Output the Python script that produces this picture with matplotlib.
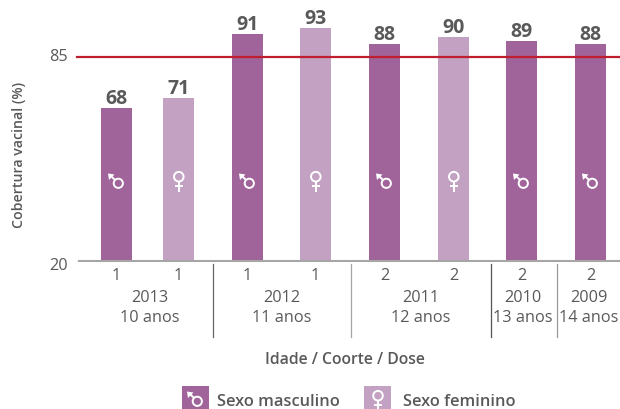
import numpy as np
import matplotlib
matplotlib.use("Agg")
import matplotlib.pyplot as plt
from matplotlib.patches import Circle, Rectangle
from matplotlib.transforms import ScaledTranslation

# values as printed above the bars
labels = [68, 71, 91, 93, 88, 90, 89, 88]
# bar heights as read against the axis (the drawn bars sit a bit above their labels)
heights = [68.8, 71.9, 92.3, 94.2, 89.2, 91.4, 90.1, 89.2]
doses = ["1", "1", "1", "1", "2", "2", "2", "2"]
sexes = ["m", "f", "m", "f", "m", "f", "m", "m"]
cohorts = ["2013\n10 anos", "2012\n11 anos", "2011\n12 anos", "2010\n13 anos", "2009\n14 anos"]
target = 85

# layout, in reference pixels
bar_x = [116.5, 178.5, 247.5, 315.5, 384.5, 453.5, 521.5, 590.5]
cohort_x = [150, 281.5, 420.5, 523, 589]
sep_x = [212.5, 351, 490.5, 556.5]
sep_c = ["#666666", "#A6A6A6", "#555555", "#999999"]

DARK = "#A0649A"
LIGHT = "#C3A1C2"
TXT = "#595959"

plt.rcParams["font.family"] = ["Open Sans", "DejaVu Sans"]
W, H = 620, 410
fig = plt.figure(figsize=(W / 100, H / 100), dpi=100)

# main axes: x in pixels, y on the chart's scale
y0, y85 = 262.0, 58.0
scale = (y0 - y85) / (target - 20)
ax = fig.add_axes([79 / W, 1 - y0 / H, (W - 79) / W, y0 / H])
ax.set_xlim(79, W)
ax.set_ylim(20, 20 + y0 / scale)
cols = [DARK if s == "m" else LIGHT for s in sexes]
ax.bar(bar_x, np.array(heights) - 20, bottom=20, width=31, color=cols, zorder=2)
ax.axhline(target, color="#BE1E2D", lw=1.6, zorder=3, xmin=-0.004, clip_on=False)
for s in ["top", "right", "left"]:
    ax.spines[s].set_visible(False)
ax.spines["bottom"].set_color("#A6A6A6")
ax.spines["bottom"].set_linewidth(1.5)
ax.set_yticks([20, 85])
ax.set_yticklabels(["20", "85"], fontsize=11.7, color=TXT)
ax.tick_params(axis="y", length=0, pad=8)
ax.set_xticks(bar_x)
ax.set_xticklabels(doses, fontsize=11.7, color=TXT)
ax.tick_params(axis="x", length=0, pad=4)
# 85 sits a little above the line, 20 a little below the baseline
for lab, dy in zip(ax.get_yticklabels(), [-2, 3]):
    lab.set_transform(lab.get_transform() + ScaledTranslation(0, dy / 100, fig.dpi_scale_trans))
for x, h, l in zip(bar_x, heights, labels):
    ax.annotate(str(l), (x, h), xytext=(0, 0), textcoords="offset points", ha="center", va="bottom",
                fontsize=14, fontweight="bold", color=TXT)

# overlay in pixel coordinates for icons, separators, legend
ov = fig.add_axes([0, 0, 1, 1])
ov.set_xlim(0, W)
ov.set_ylim(H, 0)
ov.axis("off")
ov.patch.set_alpha(0)


def male(cx, cy):
    ov.add_patch(Circle((cx + 1.8, cy + 2.3), 4.6, fill=False, ec="white", lw=1.4))
    ov.plot([cx - 1.5, cx - 5], [cy - 1, cy - 4.5], color="white", lw=1.4, solid_capstyle="butt")
    ov.fill([cx - 8.5, cx - 7.5, cx - 2], [cy - 7.5, cy - 1, cy - 6.5], color="white", lw=0)


def female(cx, cy):
    ov.add_patch(Circle((cx - 0.5, cy - 3.3), 4.8, fill=False, ec="white", lw=1.4))
    ov.plot([cx - 0.5, cx - 0.5], [cy + 1.5, cy + 11.5], color="white", lw=1.4, solid_capstyle="butt")
    ov.plot([cx - 4.8, cx + 3.8], [cy + 5.5, cy + 5.5], color="white", lw=1.4, solid_capstyle="butt")


for x, s in zip(bar_x, sexes):
    if s == "m":
        male(x, 182)
    else:
        female(x + 0.8, 181)

for x, c in zip(sep_x, sep_c):
    ov.plot([x, x], [265, 338], color=c, lw=0.9)
for x, c in zip(cohort_x, cohorts):
    ov.text(x, 298, c.split("\n")[0], ha="center", va="center", fontsize=11.7, color=TXT)
    ov.text(x, 318.5, c.split("\n")[1], ha="center", va="center", fontsize=11.7, color=TXT)

ov.text(19, 155, "Cobertura vacinal (%)", rotation=90, ha="center", va="center",
        fontsize=10.2, fontweight="semibold", color=TXT)
ov.text(345, 360, "Idade / Coorte / Dose", ha="center", va="center",
        fontsize=11.3, fontweight="semibold", color=TXT)

# legend
ov.add_patch(Rectangle((182, 387), 27, 23, color=DARK, lw=0))
male(195.5, 400)
ov.text(217, 402, "Sexo masculino", ha="left", va="center", fontsize=11.8, fontweight="semibold", color=TXT)
ov.add_patch(Rectangle((364, 387), 27, 23, color=LIGHT, lw=0))
female(378.5, 400)
ov.text(403, 402, "Sexo feminino", ha="left", va="center", fontsize=11.8, fontweight="semibold", color=TXT)

fig.savefig("out.png", dpi=100)
